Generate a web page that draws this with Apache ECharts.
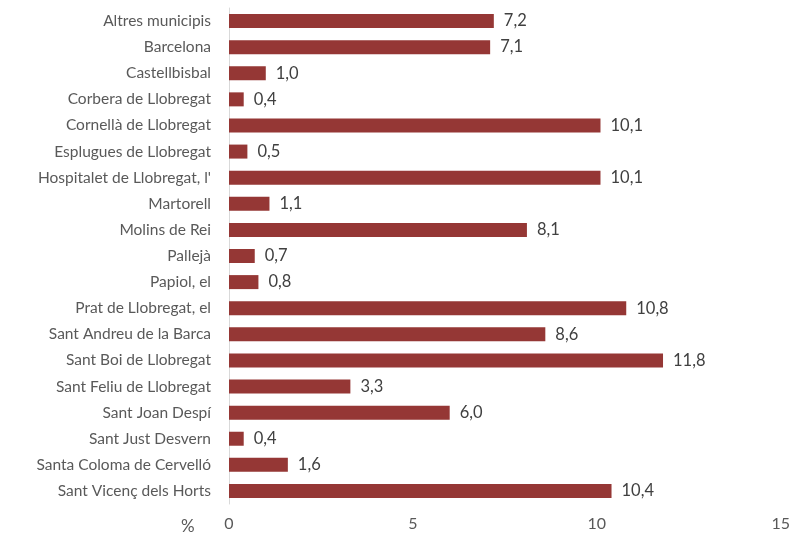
<!DOCTYPE html>
<html>
<head>
<meta charset="utf-8">
<script src="https://cdn.jsdelivr.net/npm/echarts@6/dist/echarts.min.js"></script>
<style>
  html, body { margin: 0; padding: 0; background: #fff; }
  #chart { width: 793px; height: 536px; }
</style>
</head>
<body>
<div id="chart"></div>
<script>
var municipis = ["Altres municipis", "Barcelona", "Castellbisbal", "Corbera de Llobregat",
  "Cornellà de Llobregat", "Esplugues de Llobregat", "Hospitalet de Llobregat, l'",
  "Martorell", "Molins de Rei", "Pallejà", "Papiol, el", "Prat de Llobregat, el",
  "Sant Andreu de la Barca", "Sant Boi de Llobregat", "Sant Feliu de Llobregat",
  "Sant Joan Despí", "Sant Just Desvern", "Santa Coloma de Cervelló", "Sant Vicenç dels Horts"];
var valors = [7.2, 7.1, 1.0, 0.4, 10.1, 0.5, 10.1, 1.1, 8.1, 0.7, 0.8, 10.8, 8.6, 11.8, 3.3, 6.0, 0.4, 1.6, 10.4];
var ticks = [0, 5, 10, 15];

var myChart = echarts.init(document.getElementById('chart'));
var fontFam = 'Lato, "Open Sans", sans-serif';
var option = {
  animation: false,
  textStyle: { fontFamily: fontFam },
  title: {
    text: '%',
    left: 176,
    top: 513,
    textStyle: { fontSize: 17, fontWeight: 'normal', color: '#595959', fontFamily: fontFam }
  },
  grid: { left: 229, right: 12, top: 8, bottom: 32 },
  xAxis: {
    type: 'value',
    min: ticks[0],
    max: ticks[ticks.length - 1],
    interval: 5,
    splitLine: { show: false },
    axisLine: { show: false },
    axisTick: { show: false },
    axisLabel: { color: '#595959', fontSize: 16, margin: 12 }
  },
  yAxis: {
    type: 'category',
    inverse: true,
    data: municipis,
    axisLine: { show: true, lineStyle: { color: '#d9d9d9', width: 1 } },
    axisTick: { show: false },
    axisLabel: { color: '#595959', fontSize: 15.5, margin: 18 }
  },
  series: [{
    type: 'bar',
    data: valors,
    barWidth: 14,
    itemStyle: { color: '#953735' },
    label: {
      show: true,
      position: 'right',
      distance: 10,
      color: '#404040',
      fontSize: 16.5,
      formatter: function (p) { return p.value.toFixed(1).replace('.', ','); }
    }
  }]
};
myChart.setOption(option);
</script>
</body>
</html>
